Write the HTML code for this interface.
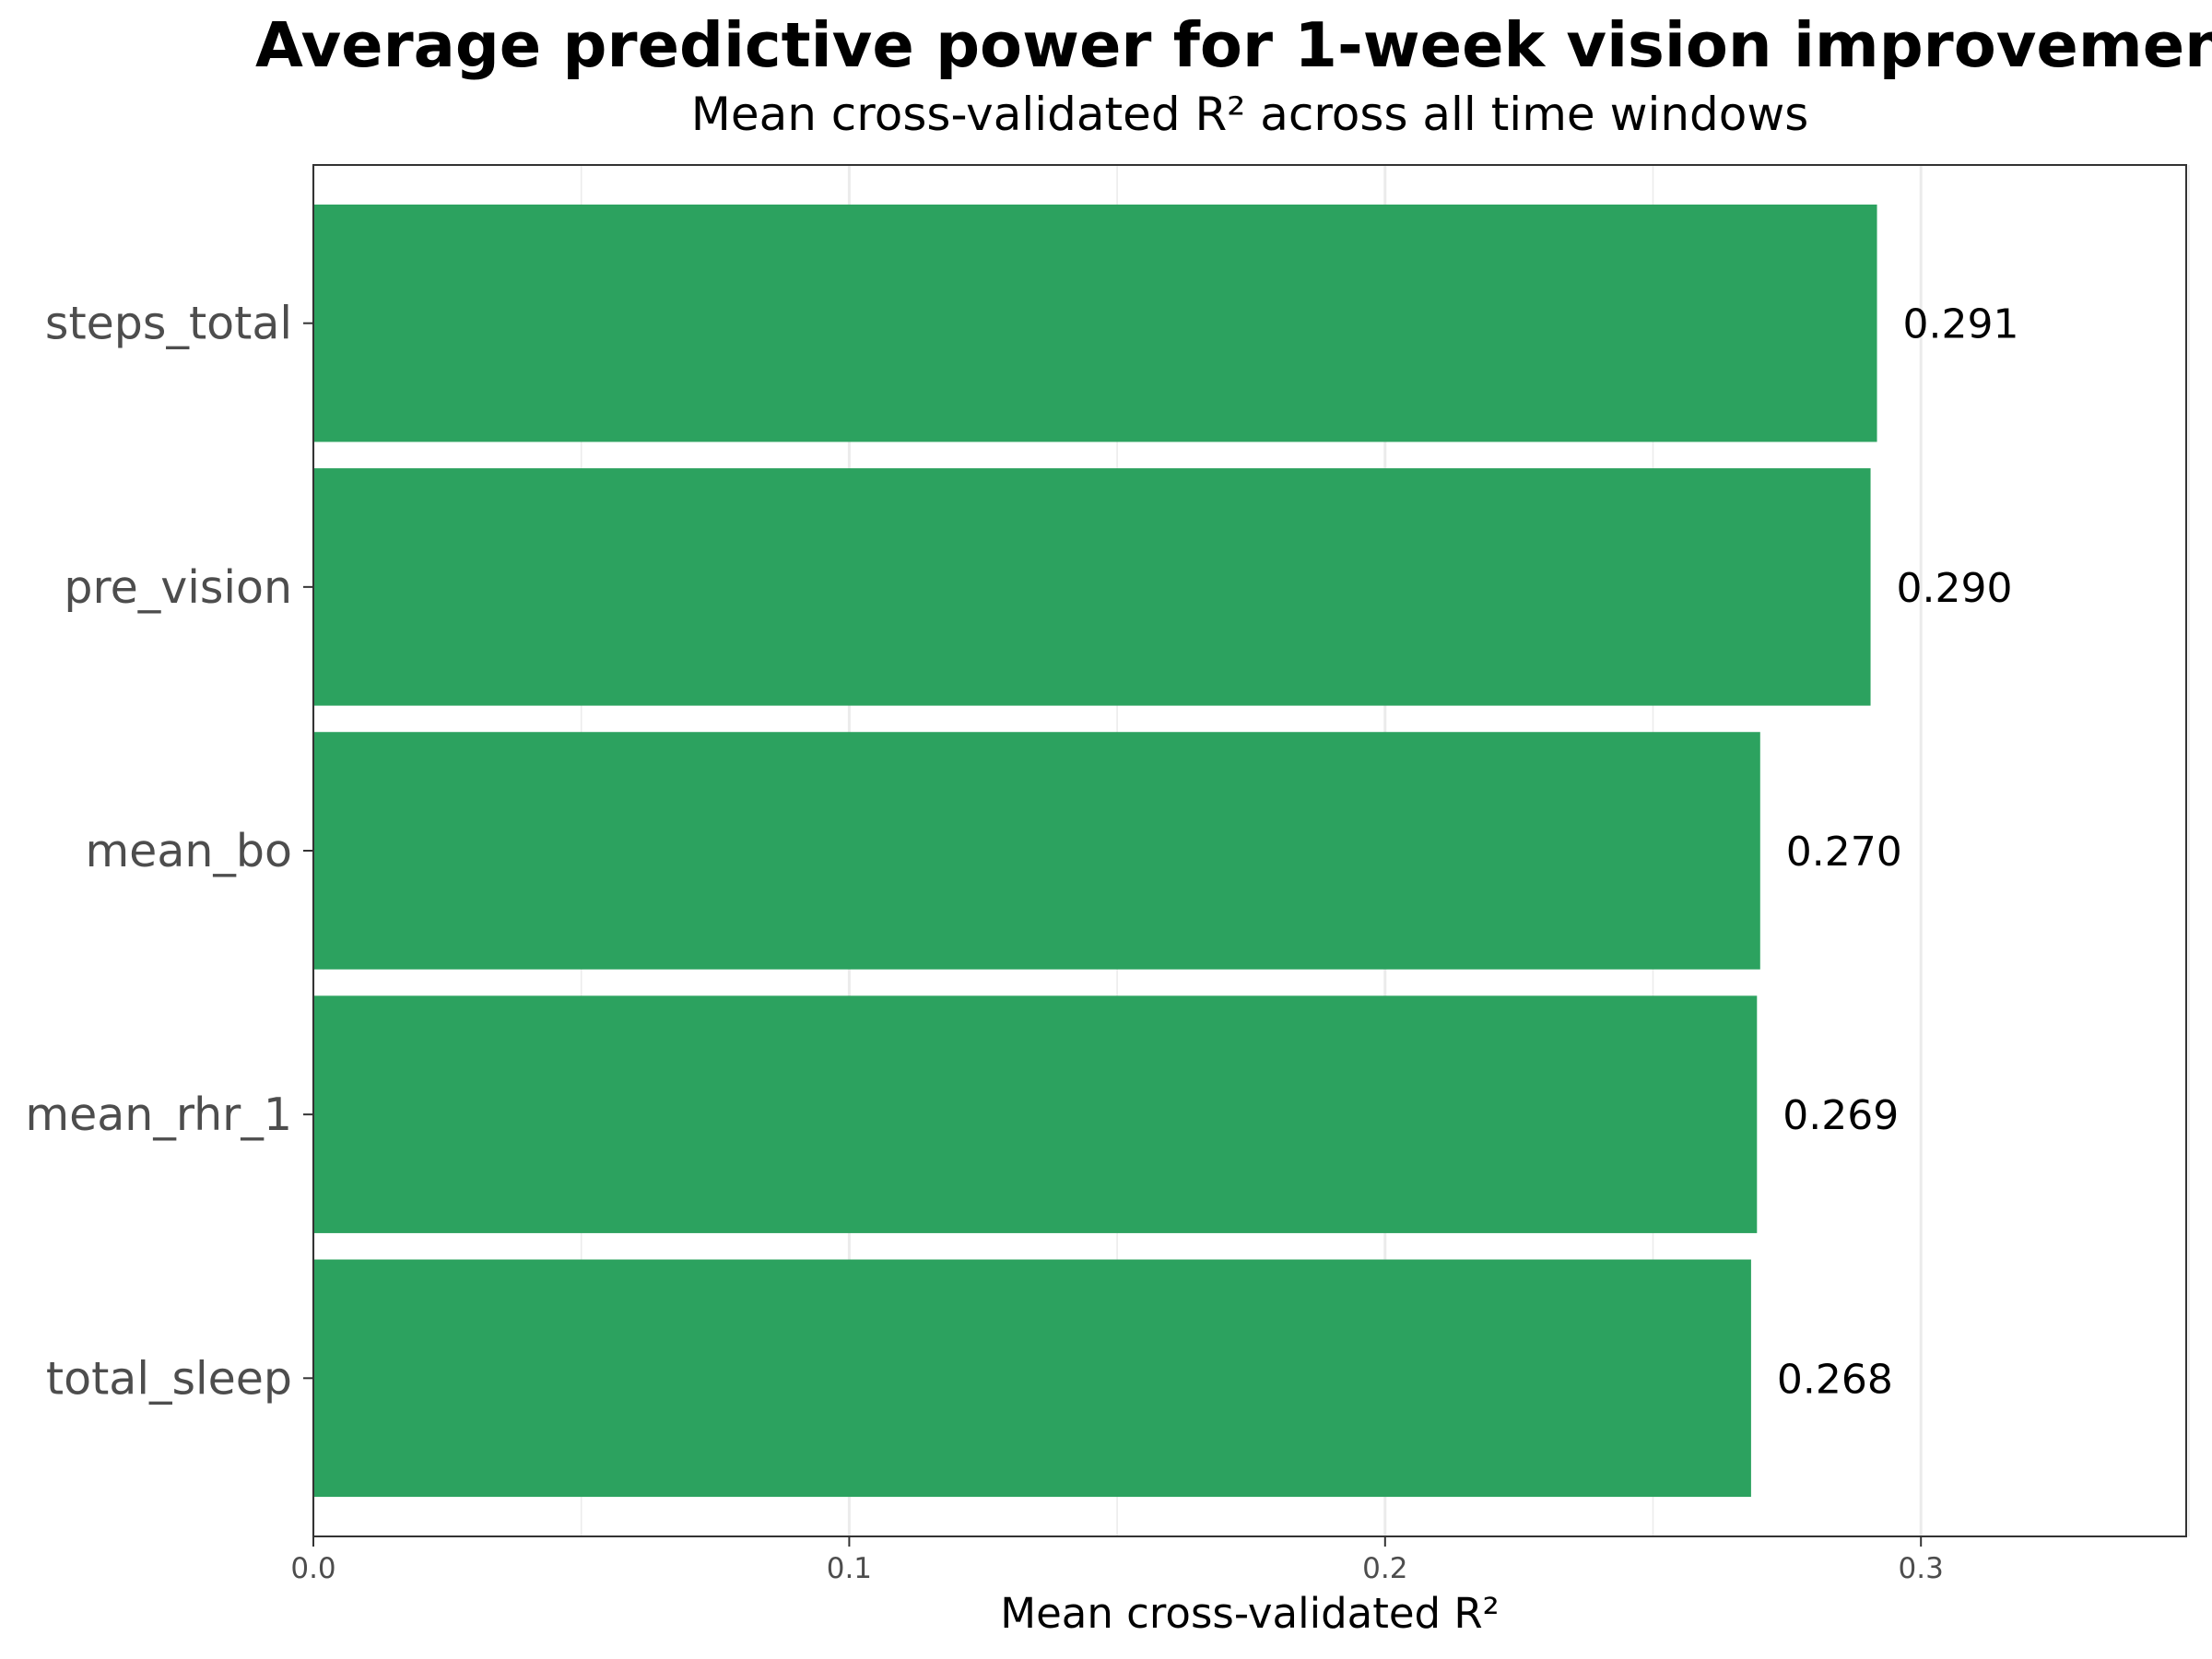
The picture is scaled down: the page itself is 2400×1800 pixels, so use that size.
<!DOCTYPE html>
<html><head><meta charset="utf-8">
<style>html,body{margin:0;padding:0;background:#fff;}svg{display:block;font-family:"DejaVu Sans","Liberation Sans",sans-serif;}</style>
</head><body>
<svg id="chart" width="2400" height="1800" viewBox="0 0 2400 1800">
<text x="277" y="72" font-size="67" font-weight="bold" fill="#000">Average predictive power for 1-week vision improvement</text>
<text x="1356" y="141" font-size="50" fill="#000" text-anchor="middle">Mean cross-validated R² across all time windows</text>
<g id="grid"></g>
<g id="bars"></g>
<rect x="340" y="179" width="2032" height="1488" fill="none" stroke="#333" stroke-width="2"/>
<g id="axes"></g>
<text x="1356" y="1766" font-size="45" fill="#000" text-anchor="middle">Mean cross-validated R²</text>
</svg>
<script>
const categories = ["steps_total","pre_vision","mean_bo","mean_rhr_1","total_sleep"];
const values = [0.2918,0.2906,0.2700,0.2694,0.2683];
const valueLabels = ["0.291","0.290","0.270","0.269","0.268"];
const xTicks = [0,0.1,0.2,0.3];
const xTickLabels = ["0.0","0.1","0.2","0.3"];
const xMinor = [0.05,0.15,0.25,0.35];

const NS="http://www.w3.org/2000/svg";
const L=340,R=2372,T=179,B=1667,XMAX=0.3495;
const x=v=>L+v/XMAX*(R-L);
const unit=(B-T)/(categories.length-1+1.2);
const y=i=>T+unit*(0.6+i);
function mk(tag,attrs,parent){const e=document.createElementNS(NS,tag);for(const k in attrs)e.setAttribute(k,attrs[k]);parent.appendChild(e);return e;}
const grid=document.getElementById('grid'),bars=document.getElementById('bars'),axes=document.getElementById('axes');
xMinor.forEach(v=>{const l=mk('line',{x1:x(v),x2:x(v),y1:T,y2:B,stroke:'#ebebeb','stroke-width':1.5},grid);

});
xTicks.forEach((v,i)=>{const l=mk('line',{x1:x(v),x2:x(v),y1:T,y2:B,stroke:'#ebebeb','stroke-width':3},grid);


const t=mk('line',{x1:x(v),x2:x(v),y1:B,y2:B+11,stroke:'#333','stroke-width':2},axes);


const tx=mk('text',{x:x(v),y:B+45,'font-size':31,fill:'#4d4d4d','text-anchor':'middle'},axes);tx.textContent=xTickLabels[i];

});
categories.forEach((c,i)=>{const h=unit*0.9;
const r=mk('rect',{x:L,y:y(i)-h/2,width:x(values[i])-L,height:h,fill:'#2ca25f'},bars);


const vl=mk('text',{x:x(values[i])+28,y:y(i)+16,'font-size':44,fill:'#000'},bars);vl.textContent=valueLabels[i];


const t=mk('line',{x1:L-11,x2:L,y1:y(i),y2:y(i),stroke:'#333','stroke-width':2},axes);


const yl=mk('text',{x:L-23,y:y(i)+17,'font-size':49,fill:'#4d4d4d','text-anchor':'end'},axes);yl.textContent=c;

});
</script>
</body></html>
